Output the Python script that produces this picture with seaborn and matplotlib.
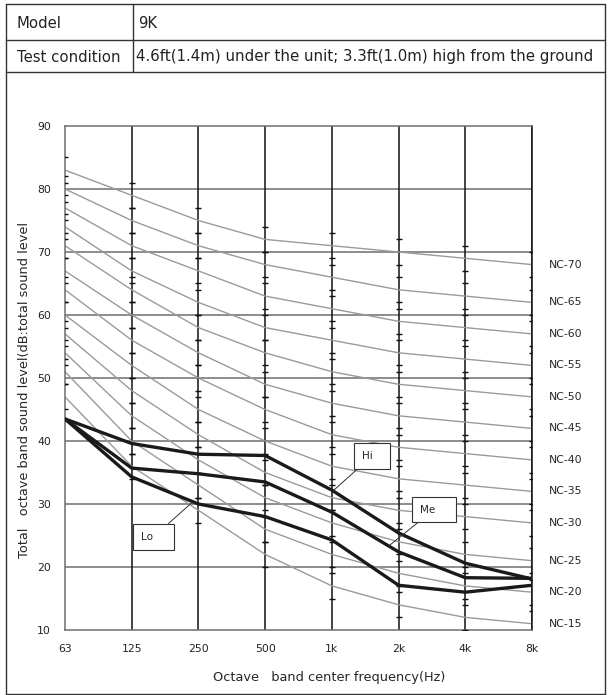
import numpy as np
import pandas as pd
import seaborn as sns
import matplotlib.pyplot as plt
from matplotlib.lines import Line2D

# octave bands
freqs = ['63', '125', '250', '500', '1k', '2k', '4k', '8k']

# NC reference curves
nc_curves = {
    'NC-15': [47, 36, 29, 22, 17, 14, 12, 11],
    'NC-20': [51, 40, 33, 26, 22, 19, 17, 16],
    'NC-25': [54, 44, 37, 31, 27, 24, 22, 21],
    'NC-30': [57, 48, 41, 35, 31, 29, 28, 27],
    'NC-35': [60, 52, 45, 40, 36, 34, 33, 32],
    'NC-40': [64, 56, 50, 45, 41, 39, 38, 37],
    'NC-45': [67, 60, 54, 49, 46, 44, 43, 42],
    'NC-50': [71, 64, 58, 54, 51, 49, 48, 47],
    'NC-55': [74, 67, 62, 58, 56, 54, 53, 52],
    'NC-60': [77, 71, 67, 63, 61, 59, 58, 57],
    'NC-65': [80, 75, 71, 68, 66, 64, 63, 62],
    'NC-70': [83, 79, 75, 72, 71, 70, 69, 68],
}

# measured levels
hi = [43.5, 39.6, 37.9, 37.7, 32.2, 25.4, 20.6, 18.1]
me = [43.5, 35.7, 34.8, 33.5, 28.7, 22.4, 18.3, 18.2]
lo = [43.5, 34.3, 30.0, 28.0, 24.3, 17.1, 16.0, 17.1]

rows = []
for name, vals in nc_curves.items():
    for i, v in enumerate(vals):
        rows.append({'x': i, 'level': v, 'curve': name})
nc = pd.DataFrame(rows)

meas = pd.concat([
    pd.DataFrame({'x': range(8), 'level': s, 'mode': m})
    for m, s in [('Hi', hi), ('Me', me), ('Lo', lo)]
])

# little dashes on the band lines, 2 dB either side of each NC point
ticks = pd.concat([nc.assign(level=nc.level + 2), nc.assign(level=nc.level - 2)])
ticks = ticks[(ticks.level <= 88) & (ticks.level >= 10)]

sns.set_theme(style='white')
plt.rcParams['font.family'] = ['DejaVu Sans']

fig = plt.figure(figsize=(6.11, 6.95), dpi=100)
ax = fig.add_axes([65 / 611, 1 - 630 / 695, 467 / 611, 504 / 695])

for y in range(20, 90, 10):
    ax.axhline(y, color='#6e6e6e', lw=1.1, zorder=1)
for x in range(1, 8):
    ax.axvline(x, color='#111111', lw=1.1, zorder=1)

sns.lineplot(data=nc, x='x', y='level', units='curve', estimator=None,
             color='#9a9a9a', lw=1.0, ax=ax, zorder=2)
sns.scatterplot(data=ticks, x='x', y='level', marker='_', s=20, color='#111111',
                linewidth=1.0, ax=ax, zorder=3, legend=False)
sns.lineplot(data=meas, x='x', y='level', units='mode', estimator=None,
             color='#1a1a1a', lw=2.4, ax=ax, zorder=4)

ax.set_xlim(0, 7)
ax.set_ylim(10, 90)
ax.set_xticks(range(8))
ax.set_xticklabels(freqs)
ax.set_yticks(range(10, 100, 10))
ax.tick_params(length=0, labelsize=7.8, colors='#222222')
ax.tick_params(axis='y', pad=10)
ax.tick_params(axis='x', pad=10)
for s in ['left', 'top', 'bottom']:
    ax.spines[s].set_color('#6e6e6e')
    ax.spines[s].set_linewidth(1.1)
ax.spines['right'].set_color('#111111')
ax.spines['right'].set_linewidth(1.1)

ax.set_xlabel('Octave   band center frequency(Hz)', fontsize=9.3)
ax.set_ylabel('Total   octave band sound level(dB:total sound level', fontsize=9.3)
ax.xaxis.set_label_coords(0.565, -0.081)
ax.yaxis.set_label_coords(-0.073, 0.476)

for name, vals in nc_curves.items():
    ax.text(7.25, vals[-1], name, fontsize=7.8, va='center', ha='left', clip_on=False)

box = dict(boxstyle='square,pad=0.75', fc='white', ec='#333333', lw=0.8)
arrow = dict(arrowstyle='-', color='#333333', lw=0.7, shrinkA=0, shrinkB=0)
ax.annotate('Hi   ', xy=(4.03, 32.2), xytext=(4.6, 37.6), fontsize=7.5,
            ha='center', va='center', bbox=box, arrowprops=arrow, zorder=5)
ax.annotate('Me    ', xy=(4.86, 23.4), xytext=(5.53, 29.1), fontsize=7.5,
            ha='center', va='center', bbox=box, arrowprops=arrow, zorder=5)
ax.annotate('Lo    ', xy=(1.9, 30.2), xytext=(1.33, 24.8), fontsize=7.5,
            ha='center', va='center', bbox=box, arrowprops=arrow, zorder=5)

# header table
def px(x, y):
    return x / 611, 1 - y / 695

tc = '#333333'
for (x0, y0), (x1, y1) in [((6, 4), (605, 4)), ((6, 40), (605, 40)), ((6, 72), (605, 72)),
                           ((6, 4), (6, 695)), ((605, 4), (605, 695)), ((133, 4), (133, 72)),
                           ((6, 694), (605, 694))]:
    a, b = px(x0, y0)
    c, d = px(x1, y1)
    fig.add_artist(Line2D([a, c], [b, d], color=tc, lw=1.0))

fs = 10.7
fig.text(*px(17, 23), 'Model', fontsize=fs, va='center', color='#222222')
fig.text(*px(138, 23), '9K', fontsize=fs, va='center', color='#222222')
fig.text(*px(17, 57), 'Test condition', fontsize=fs, va='center', color='#222222')
fig.text(*px(136, 57), '4.6ft(1.4m) under the unit; 3.3ft(1.0m) high from the ground',
         fontsize=10.8, va='center', color='#222222')

fig.savefig('out.png', dpi=100)
